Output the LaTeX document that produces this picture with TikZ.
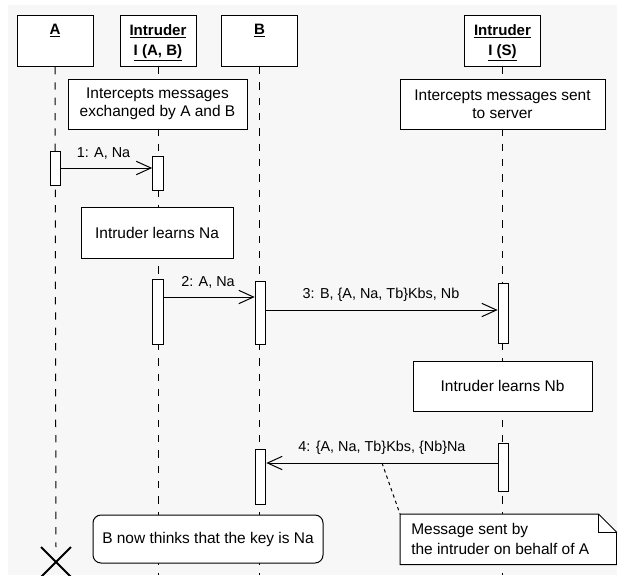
\documentclass[tikz,border=0pt]{standalone}
\usepackage{fontspec}
\setmainfont{Liberation Sans}
\usetikzlibrary{arrows.meta,shapes.misc,calc}
\definecolor{bgray}{HTML}{F7F7F7}
\begin{document}
\begin{tikzpicture}[x=0.75pt,y=-0.75pt,
  headbox/.style={draw, line width=0.75pt, fill=white, minimum width=57pt, minimum height=38.25pt, inner sep=0pt, anchor=north},
  headtxt/.style={font=\fontsize{11.3}{15}\selectfont\bfseries, align=center, inner sep=0pt, anchor=north},
  act/.style={draw, line width=0.75pt, fill=white, minimum width=8pt, inner sep=0pt, anchor=north},
  notebox/.style={draw, line width=0.75pt, fill=white, inner sep=0pt, align=center, font=\fontsize{11.6}{13.5}\selectfont},
  msg/.style={line width=0.75pt, -{Straight Barb[length=11pt,width=10pt,line width=0.75pt]}},
  lbl/.style={font=\fontsize{10.8}{13}\selectfont, inner sep=0pt, anchor=base},
  lifeline/.style={line width=0.75pt, dash pattern=on 5.5pt off 6pt},
  notelink/.style={line width=0.75pt, dash pattern=on 2.5pt off 2.5pt}
]
\useasboundingbox (0,0) rectangle (617,575);
\fill[bgray] (8,5) rectangle (617,575);
\coordinate (bot) at (0,575);

% header boxes
\node[headbox] (hA) at (55,15) {};
\node[headbox] (hI) at (158,15) {};
\node[headbox] (hB) at (259.5,15) {};
\node[headbox] (hS) at (502.5,15) {};
\node[headtxt] (tA) at (55,24) {\underline{A}};
\node[headtxt] (tI) at (158,24) {\underline{Intruder}\\\underline{I (A, B)}};
\node[headtxt] (tB) at (259.5,24) {\underline{B}};
\node[headtxt] (tS) at (502.5,24) {\underline{Intruder}\\\underline{I (S)}};

% destruction mark
\node[cross out, draw, line width=1.5pt, minimum size=21pt, inner sep=0pt] (xA) at (56,562) {};

% lifelines
\draw[lifeline] (hA.south) -- (xA.north);
\draw[lifeline] (hI.south) -- (hI.south |- bot);
\draw[lifeline] (hB.south) -- (hB.south |- bot);
\draw[lifeline] (hS.south) -- (hS.south |- bot);

% notes
\node[notebox, minimum width=134.25pt, minimum height=37.5pt] (n1) at (157.5,104) {Intercepts messages\\exchanged by A and B};
\node[notebox, minimum width=153.75pt, minimum height=37.5pt] (n2) at (502.5,104) {Intercepts messages sent\\to server};
\node[notebox, minimum width=114pt, minimum height=38.25pt] (n3) at (157,232.5) {Intruder learns Na};
\node[notebox, minimum width=134.25pt, minimum height=37.5pt] (n4) at (502.5,386) {Intruder learns Nb};
\node[notebox, rounded corners=6pt, minimum width=172.5pt, minimum height=36pt] (n5) at (208,539) {B now thinks that the key is Na};
\node[minimum width=162pt, minimum height=37.5pt, inner sep=0pt, anchor=north west] (n6) at (400,514) {};
\draw[line width=0.75pt, fill=white] (n6.north west) -- ([xshift=-13.5pt]n6.north east) -- ([yshift=-13.5pt]n6.north east) -- (n6.south east) -- (n6.south west) -- cycle;
\draw[line width=0.75pt] ([xshift=-13.5pt]n6.north east) -- ([xshift=-13.5pt,yshift=-13.5pt]n6.north east) -- ([yshift=-13.5pt]n6.north east);
\node[anchor=west, align=left, inner sep=0pt, font=\fontsize{11.6}{15}\selectfont] (n6t) at (411,539) {Message sent by\\the intruder on behalf of A};

% activations
\node[act, minimum height=25.5pt] (aA1) at (55.5,151) {};
\node[act, minimum height=25.5pt] (aI1) at (158,156) {};
\node[act, minimum height=48.75pt] (aI2) at (158,279) {};
\node[act, minimum height=47.25pt] (aB1) at (260.5,281) {};
\node[act, minimum height=45pt] (aS1) at (503.5,283) {};
\node[act, minimum height=36pt] (aS2) at (503.5,443) {};
\node[act, minimum height=41.25pt] (aB2) at (260.5,449) {};

% messages
\coordinate (y1) at (0,168);
\coordinate (y2) at (0,297);
\coordinate (y3) at (0,310);
\coordinate (y4) at (0,463);
\draw[msg] (aA1.east |- y1) -- (aI1.west |- y1);
\draw[msg] (aI2.east |- y2) -- (aB1.west |- y2);
\draw[msg] (aB1.east |- y3) -- (aS1.west |- y3);
\draw[msg] (aS2.west |- y4) -- (aB2.east |- y4);
\node[lbl] (l1) at (103.5,157) {1: A, Na};
\node[lbl] (l2) at (208,286) {2: A, Na};
\node[lbl] (l3) at (381,298) {3: B, \{A, Na, Tb\}Kbs, Nb};
\node[lbl] (l4) at (382,451) {4: \{A, Na, Tb\}Kbs, \{Nb\}Na};

% note link
\coordinate (m4) at (382,463);
\draw[notelink] (m4) -- (n6.north west);
\end{tikzpicture}
\end{document}
